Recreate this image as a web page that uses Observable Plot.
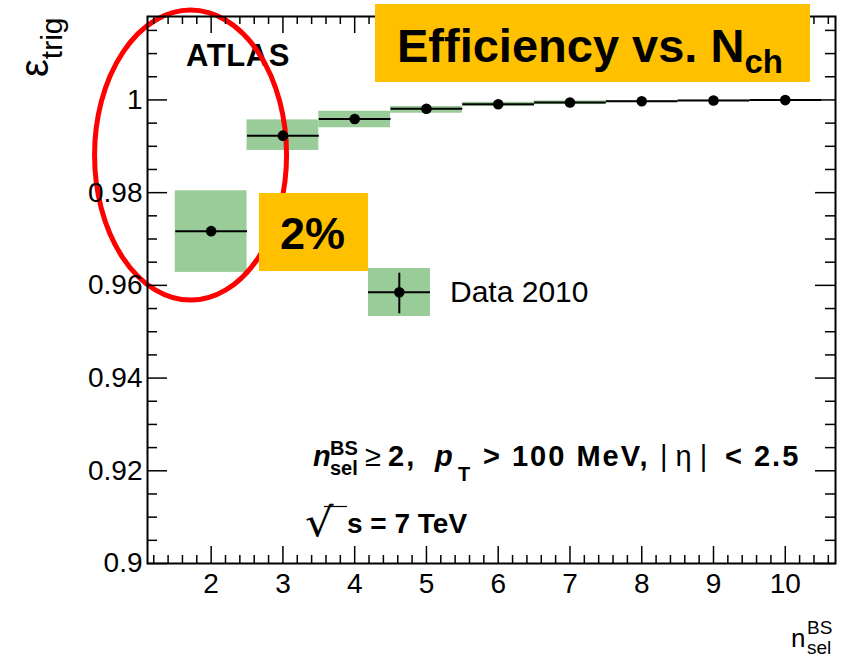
<!DOCTYPE html>
<html>
<head>
<meta charset="utf-8">
<script src="https://cdn.jsdelivr.net/npm/d3@7"></script>
<script src="https://cdn.jsdelivr.net/npm/@observablehq/plot@0.6"></script>
<style>
  body { margin: 0; background: #fff; }
  #chart { width: 845px; height: 668px; }
  #chart svg { overflow: visible; }
</style>
</head>
<body>
<div id="chart"></div>
<script>
// Trigger efficiency per selected-track multiplicity bin
const nsel    = [2, 3, 4, 5, 6, 7, 8, 9, 10];
const eff     = [0.9717, 0.9923, 0.9959, 0.9981, 0.99907, 0.99944, 0.99972, 0.99987, 0.99997];
// total uncertainty band (lower / upper edge)
const effLow  = [0.9628, 0.9891, 0.9940, 0.99713, 0.99858, 0.9990, 0.99955, 0.99977, 0.99992];
const effHigh = [0.9804, 0.9957, 0.99756, 0.99858, 0.9995, 0.9998, 0.99988, 0.99996, 1.0];
const binHalfWidth = 0.5;

// Axis ticks and labels
const xTicks = [2, 3, 4, 5, 6, 7, 8, 9, 10];
const yTicks = [0.9, 0.92, 0.94, 0.96, 0.98, 1.0];
const yTickLabels = ["0.9", "0.92", "0.94", "0.96", "0.98", "1"];

// Texts
const experimentLabel = "ATLAS";
const legendLabel = "Data 2010";
const headline = "Efficiency vs. N";
const headlineSub = "ch";
const highlightLabel = "2%";

const rows = nsel.map((n, i) => ({n, eff: eff[i], lo: effLow[i], hi: effHigh[i]}));

const xMinor = d3.range(1.2, 10.7, 0.2).filter(v => Math.abs(v - Math.round(v)) > 1e-6);
const yMinor = d3.range(0.9, 1.0181, 0.005).filter(v => Math.abs(v / 0.02 - Math.round(v / 0.02)) > 1e-6);

const FONT = "Liberation Sans, Arial, Helvetica, sans-serif";
const GREEN = "#99cc99";
const YELLOW = "#ffc000";

const W = 845, H = 668;
const mL = 147, mR = 10, mT = 16, mB = 105;
const innerH = H - mT - mB;
const innerW = W - mL - mR;

// Text helper for the overlay layer
function addText(g, x, y, parts, base) {
  const t = g.append("text").attr("x", x).attr("y", y)
    .attr("text-anchor", "start")
    .attr("font-family", base.family || FONT).attr("fill", "black")
    .attr("font-size", base.size).attr("font-weight", base.weight || "normal");
  if (base.spacing) t.attr("letter-spacing", base.spacing);
  for (const p of parts) {
    const s = t.append("tspan").text(p.text);
    if (p.x != null) s.attr("x", p.x);
    if (p.dy != null) s.attr("dy", p.dy);
    if (p.size) s.attr("font-size", p.size);
    if (p.weight) s.attr("font-weight", p.weight);
    if (p.italic) s.attr("font-style", "italic");
    if (p.spacing != null) s.attr("letter-spacing", p.spacing);
  }
  return t;
}

// Experiment label, drawn beneath the highlight ellipse
function atlasLabel() {
  const g = d3.create("svg:g");
  addText(g, 186, 66, [{text: experimentLabel}], {size: 31, weight: "bold", spacing: 0.6});
  return g.node();
}

// Red ellipse around the lowest-multiplicity bin
function highlightEllipse(index, scales) {
  const g = d3.create("svg:g");
  g.append("ellipse")
    .attr("cx", scales.x(1.72)).attr("cy", scales.y(0.988))
    .attr("rx", 96).attr("ry", 145)
    .attr("fill", "none").attr("stroke", "#ff0000").attr("stroke-width", 5);
  return g.node();
}

// Legend, axis titles, cut annotations and callout boxes
function overlay() {
  const g = d3.create("svg:g");

  // legend entry
  g.append("rect").attr("x", 368).attr("y", 268).attr("width", 62).attr("height", 48).attr("fill", GREEN);
  g.append("line").attr("x1", 368).attr("x2", 430).attr("y1", 292.3).attr("y2", 292.3)
    .attr("stroke", "black").attr("stroke-width", 2);
  g.append("line").attr("x1", 399.3).attr("x2", 399.3).attr("y1", 272.7).attr("y2", 313.3)
    .attr("stroke", "black").attr("stroke-width", 2);
  g.append("circle").attr("cx", 399.3).attr("cy", 292.3).attr("r", 5.3).attr("fill", "black");
  addText(g, 450, 302, [{text: legendLabel}], {size: 30});

  // selection cuts
  addText(g, 313, 466, [
    {text: "n", italic: true},
    {text: "BS", x: 330, dy: -11, size: 20, spacing: 0},
    {text: "sel", x: 330, dy: 20, size: 20, spacing: 0},
    {text: "\u2265", x: 365, dy: -9, weight: "normal"},
    {text: "2,", x: 388},
    {text: "p", x: 435, italic: true},
    {text: "T", x: 458, dy: 15, size: 20, spacing: 0},
    {text: "> 100 MeV,", x: 483, dy: -15},
    {text: "| \u03b7 |", x: 660, weight: "normal", spacing: 0},
    {text: "< 2.5", x: 725}
  ], {size: 29, weight: "bold", spacing: 2});

  // centre-of-mass energy: stretched radical sign with its overbar
  const rad = g.append("g").attr("transform", "translate(305,536) scale(1.4,1.25)");
  addText(rad, 0, 0, [{text: "\u221a"}], {size: 32, family: "DejaVu Sans"});
  g.append("line").attr("x1", 324).attr("x2", 347).attr("y1", 506.5).attr("y2", 506.5)
    .attr("stroke", "black").attr("stroke-width", 1.2);
  addText(g, 347, 533, [{text: "s = 7 TeV"}], {size: 28, weight: "bold"});

  // y-axis title
  const yt = g.append("g").attr("transform", "translate(48,77) rotate(-90)");
  addText(yt, 0, 0, [{text: "\u03b5"}, {text: "trig", dy: 14, size: 30}], {size: 40});

  // x-axis title
  addText(g, 791, 647, [
    {text: "n"},
    {text: "BS", x: 807, dy: -13, size: 19},
    {text: "sel", x: 807, dy: 20, size: 19}
  ], {size: 26});

  // callout boxes
  g.append("rect").attr("x", 375).attr("y", 4).attr("width", 435).attr("height", 78).attr("fill", YELLOW);
  addText(g, 397, 62, [{text: headline}, {text: headlineSub, dy: 11, size: 33}], {size: 47, weight: "bold"});

  g.append("rect").attr("x", 259).attr("y", 193).attr("width", 109).attr("height", 78).attr("fill", YELLOW);
  addText(g, 280, 249, [{text: highlightLabel}], {size: 45, weight: "bold"});

  return g.node();
}

const plot = Plot.plot({
  width: W,
  height: H,
  marginLeft: mL,
  marginRight: mR,
  marginTop: mT,
  marginBottom: mB,
  x: {domain: [1.113, 10.7]},
  y: {domain: [0.9, 1.018]},
  style: {fontFamily: FONT, background: "white", overflow: "visible", color: "black"},
  marks: [
    atlasLabel,
    // uncertainty bands
    Plot.rect(rows, {
      x1: d => d.n - binHalfWidth, x2: d => d.n + binHalfWidth,
      y1: "lo", y2: "hi", fill: GREEN
    }),
    highlightEllipse,
    // bin-width bars
    Plot.link(rows, {
      x1: d => d.n - binHalfWidth, x2: d => d.n + binHalfWidth,
      y1: "eff", y2: "eff", stroke: "black", strokeWidth: 2
    }),
    Plot.dot(rows, {x: "n", y: "eff", r: 5.3, fill: "black", stroke: null}),

    // axis labels
    Plot.axisX({ticks: xTicks, tickSize: 0, tickPadding: 10, fontSize: 28, label: null, tickFormat: d => String(d)}),
    Plot.axisY({ticks: yTicks, tickSize: 0, tickPadding: 5, fontSize: 28, label: null,
      tickFormat: d => yTickLabels[yTicks.findIndex(t => Math.abs(t - d) < 1e-9)]}),

    // inward ticks on all four sides
    Plot.tickX(xTicks, {x: d => d, insetTop: innerH - 17, stroke: "black", strokeWidth: 1.5}),
    Plot.tickX(xTicks, {x: d => d, insetBottom: innerH - 17, stroke: "black", strokeWidth: 1.5}),
    Plot.tickX(xMinor, {x: d => d, insetTop: innerH - 8, stroke: "black", strokeWidth: 1.5}),
    Plot.tickX(xMinor, {x: d => d, insetBottom: innerH - 8, stroke: "black", strokeWidth: 1.5}),
    Plot.tickY(yTicks, {y: d => d, insetRight: innerW - 20, stroke: "black", strokeWidth: 1.5}),
    Plot.tickY(yTicks, {y: d => d, insetLeft: innerW - 20, stroke: "black", strokeWidth: 1.5}),
    Plot.tickY(yMinor, {y: d => d, insetRight: innerW - 10, stroke: "black", strokeWidth: 1.5}),
    Plot.tickY(yMinor, {y: d => d, insetLeft: innerW - 10, stroke: "black", strokeWidth: 1.5}),
    Plot.frame({stroke: "black", strokeWidth: 2}),

    overlay
  ]
});

document.getElementById("chart").appendChild(plot);
</script>
</body>
</html>
